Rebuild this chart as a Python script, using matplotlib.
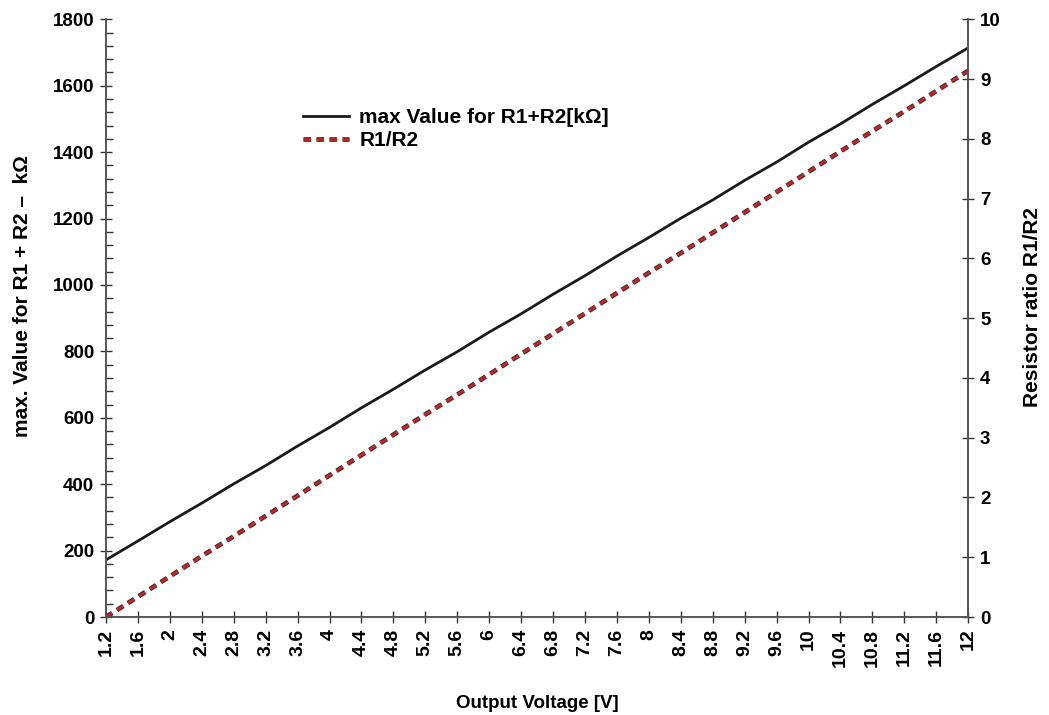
import matplotlib.pyplot as plt
import matplotlib.patheffects as pe
from matplotlib.ticker import MultipleLocator

plt.rcParams["font.family"] = ["Liberation Sans", "DejaVu Sans"]
plt.rcParams["font.weight"] = "bold"

# output voltage [V]
vout = [1.2, 1.6, 2.0, 2.4, 2.8, 3.2, 3.6, 4.0, 4.4, 4.8, 5.2, 5.6, 6.0, 6.4,
        6.8, 7.2, 7.6, 8.0, 8.4, 8.8, 9.2, 9.6, 10.0, 10.4, 10.8, 11.2, 11.6, 12.0]
# max R1+R2 [kOhm]
r_sum = [172, 229, 287, 343, 401, 456, 515, 571, 630, 686, 744, 799, 858, 913,
         972, 1028, 1087, 1143, 1201, 1256, 1315, 1370, 1430, 1485, 1544, 1600, 1658, 1714]
# resistor ratio R1/R2
ratio = [0.00, 0.34, 0.68, 1.02, 1.35, 1.69, 2.03, 2.37, 2.71, 3.05, 3.39, 3.72, 4.06, 4.40,
         4.74, 5.08, 5.42, 5.76, 6.09, 6.43, 6.77, 7.11, 7.45, 7.79, 8.13, 8.46, 8.80, 9.14]
xticks = [round(1.2 + 0.4 * i, 1) for i in range(28)]
xtick_labels = [f"{t:g}" for t in xticks]

fig = plt.figure(figsize=(10.49, 7.15), dpi=100)
ax = fig.add_axes([0.101, 0.137, 0.822, 0.836])
ax2 = ax.twinx()

spine_col = "#555555"
l1, = ax.plot(vout, r_sum, color="#1a1a1a", lw=2.0, label="max Value for R1+R2[k\u03a9]")
l2, = ax2.plot(vout, ratio, color="#d42020", lw=1.8, dashes=(3, 2.2),
               label="R1/R2",
               path_effects=[pe.Stroke(linewidth=3.4, foreground="#333333"), pe.Normal()])

ax.set_xlim(1.2, 12)
ax.set_ylim(0, 1800)
ax2.set_ylim(0, 10)
ax.set_xticks(xticks)
ax.set_xticklabels(xtick_labels, rotation=90, fontsize=14, fontweight="bold")
ax.yaxis.set_major_locator(MultipleLocator(200))
ax.yaxis.set_minor_locator(MultipleLocator(40))
ax2.yaxis.set_major_locator(MultipleLocator(1))

for a in (ax, ax2):
    a.spines["top"].set_visible(False)
    for s in ("left", "right", "bottom"):
        a.spines[s].set_color(spine_col)
        a.spines[s].set_linewidth(1.2)

ax.tick_params(axis="x", direction="inout", length=9, width=1, color="#333333",
               labelsize=14, pad=4)
ax.tick_params(axis="y", which="major", direction="inout", length=9, width=1,
               color="#333333", labelsize=13.5, pad=4)
ax.tick_params(axis="y", which="minor", direction="in", length=5, width=1, color="#333333")
ax2.tick_params(axis="y", direction="inout", length=9, width=1, color="#333333",
                labelsize=13.5, pad=4)
for lab in ax.get_yticklabels() + ax2.get_yticklabels():
    lab.set_fontweight("bold")

ax.set_xlabel("Output Voltage [V]", fontsize=13.5, fontweight="bold", labelpad=20)
ax.set_ylabel("max. Value for R1 + R2 \u2013  k\u03a9", fontsize=15, fontweight="bold")
ax.yaxis.set_label_coords(-0.086, 0.537)
ax2.set_ylabel("Resistor ratio R1/R2", fontsize=15, fontweight="bold")
ax2.yaxis.set_label_coords(1.064, 0.518)

leg = ax.legend(handles=[l1, l2], loc="upper left", bbox_to_anchor=(0.207, 0.883),
                frameon=False, fontsize=15, handlelength=2.2, handletextpad=0.5,
                labelspacing=0.2)
for t in leg.get_texts():
    t.set_fontweight("bold")

fig.savefig("out.png", dpi=100)
